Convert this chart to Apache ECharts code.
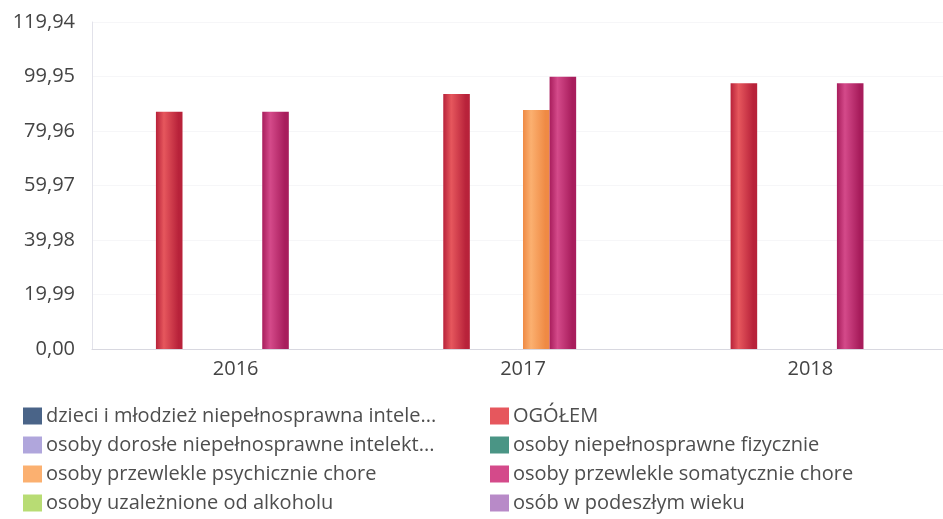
<!DOCTYPE html>
<html>
<head>
<meta charset="utf-8">
<script src="https://cdn.jsdelivr.net/npm/echarts@6/dist/echarts.min.js"></script>
<style>
  html, body { margin: 0; padding: 0; background: #fff; }
  #main { width: 943px; height: 519px; }
</style>
</head>
<body>
<div id="main"></div>
<script>
// dane
var years = ["2016", "2017", "2018"];
var seriesNames = [
  "dzieci i młodzież niepełnosprawna intelektualnie",
  "OGÓŁEM",
  "osoby dorosłe niepełnosprawne intelektualnie",
  "osoby niepełnosprawne fizycznie",
  "osoby przewlekle psychicznie chore",
  "osoby przewlekle somatycznie chore",
  "osoby uzależnione od alkoholu",
  "osób w podeszłym wieku"
];
var dzieci = [null, null, null];
var ogolem = [87, 93.5, 97.5];
var dorosle = [null, null, null];
var fizycznie = [null, null, null];
var psychicznie = [null, 87.7, null];
var somatycznie = [87, 99.9, 97.5];
var alkohol = [null, null, null];
var podeszly = [null, null, null];
var yTicks = [0, 19.99, 39.98, 59.97, 79.96, 99.95, 119.94];

var values = [dzieci, ogolem, dorosle, fizycznie, psychicznie, somatycznie, alkohol, podeszly];
var colors = [
  ["#4a6488", "#2c4264"],
  ["#e6575d", "#b8223a"],
  ["#b0a6dc", "#8a7cc4"],
  ["#4a9585", "#2a6e60"],
  ["#fbb070", "#ef8a44"],
  ["#d44a8a", "#a81d5c"],
  ["#b8dc74", "#94c24c"],
  ["#b88ac8", "#9060a8"]
];
var shortNames = {
  "dzieci i młodzież niepełnosprawna intelektualnie": "dzieci i młodzież niepełnosprawna intele...",
  "osoby dorosłe niepełnosprawne intelektualnie": "osoby dorosłe niepełnosprawne intelekt..."
};

var chart = echarts.init(document.getElementById("main"));

var series = seriesNames.map(function (name, i) {
  return {
    name: name,
    type: "bar",
    data: values[i],
    barGap: "0%",
    barCategoryGap: "26%",
    itemStyle: {
      color: new echarts.graphic.LinearGradient(0, 0, 1, 0, [
        { offset: 0, color: colors[i][1] },
        { offset: 0.3, color: colors[i][0] },
        { offset: 0.85, color: colors[i][1] },
        { offset: 1, color: colors[i][1] }
      ])
    }
  };
});

function legendCfg(names, left) {
  return {
    orient: "vertical",
    left: left,
    top: 401,
    itemWidth: 19,
    itemHeight: 17,
    itemGap: 9,
    icon: "rect",
    data: names.map(function (n) {
      var idx = seriesNames.indexOf(n);
      return { name: n, itemStyle: { color: colors[idx][0] } };
    }),
    formatter: function (n) { return shortNames[n] || n; },
    textStyle: { fontFamily: "Open Sans", fontSize: 20, color: "#4e4e4e", lineHeight: 20, padding: [0, 0, 0, -1] }
  };
}

chart.setOption({
  animation: false,
  grid: { left: 92, right: -11, top: 22, bottom: 170, outerBoundsMode: "none" },
  legend: [
    legendCfg([seriesNames[0], seriesNames[2], seriesNames[4], seriesNames[6]], 18),
    legendCfg([seriesNames[1], seriesNames[3], seriesNames[5], seriesNames[7]], 485)
  ],
  xAxis: {
    type: "category",
    data: years,
    axisLine: { lineStyle: { color: "#d8d8e0" } },
    axisTick: { show: false },
    axisLabel: { fontFamily: "Open Sans", fontSize: 20, color: "#444", margin: 10 }
  },
  yAxis: {
    type: "value",
    min: yTicks[0],
    max: yTicks[yTicks.length - 1],
    interval: yTicks[1],
    axisLine: { show: true, lineStyle: { color: "#e2e2ea" } },
    axisTick: { show: false },
    splitLine: { lineStyle: { color: "#f6f6f8" } },
    axisLabel: {
      fontFamily: "Open Sans", fontSize: 20, color: "#444", margin: 17,
      formatter: function (v) { return v.toFixed(2).replace(".", ","); }
    }
  },
  series: series
});
</script>
</body>
</html>
